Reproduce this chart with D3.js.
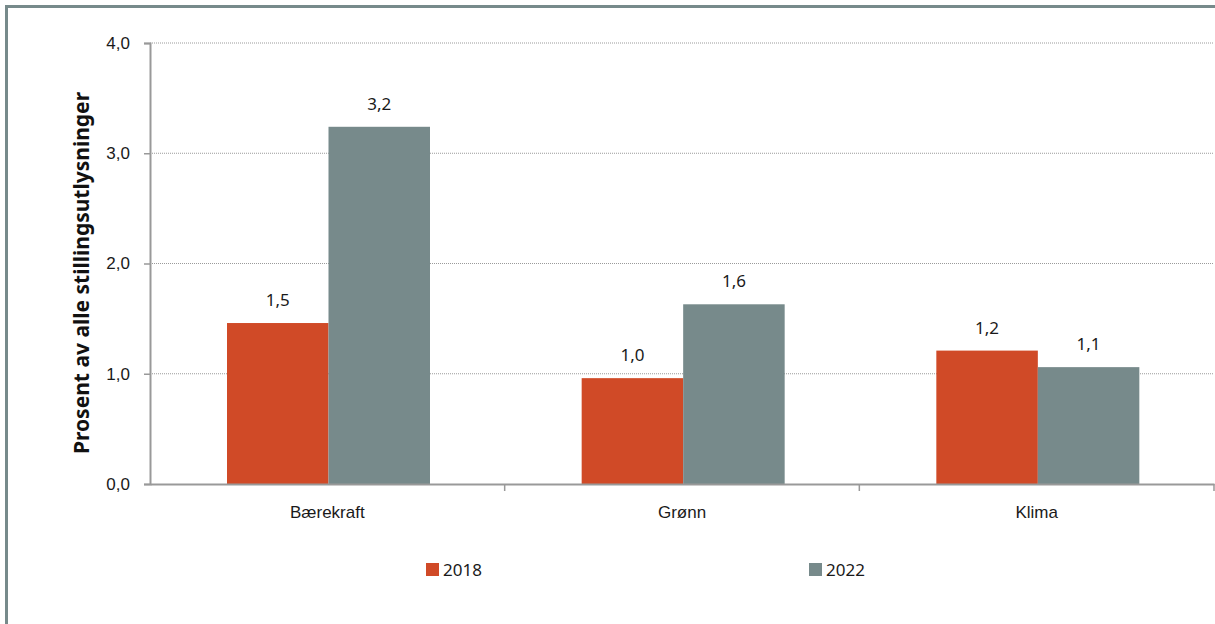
<!DOCTYPE html>
<html><head><meta charset="utf-8">
<script src="https://cdn.jsdelivr.net/npm/d3@7"></script>
<style>body{margin:0;background:#fff}svg{display:block;font-family:"Source Sans Pro","Noto Sans",sans-serif}</style>
</head><body><svg id="c" width="1215" height="624"></svg>
<script>
const categories = ["Bærekraft", "Grønn", "Klima"];
const seriesNames = ["2018", "2022"];
const values2018 = [1.46, 0.96, 1.21];
const values2022 = [3.24, 1.63, 1.06];
const yTicks = [0, 1, 2, 3, 4];
const colors = ["#D04A27", "#778A8B"];
const yTitle = "Prosent av alle stillingsutlysninger";

const svg = d3.select("#c");
const fmt = v => d3.format(".1f")(v).replace(".", ",");

// frame
svg.append("rect").attr("x", 6.5).attr("y", 6.5).attr("width", 1300).attr("height", 700)
  .attr("fill", "none").attr("stroke", "#778A8B").attr("stroke-width", 3);

const x0 = d3.scaleBand().domain(categories).range([150, 1214]).paddingInner(0).paddingOuter(0);
const x1 = d3.scaleBand().domain(seriesNames).range([77, 77 + 203]);
const y = d3.scaleLinear().domain([0, 4]).range([484, 43]);

// gridlines
svg.append("g").selectAll("line").data(yTicks.filter(d => d > 0)).join("line")
  .attr("x1", 150).attr("x2", 1214).attr("y1", d => y(d)).attr("y2", d => y(d))
  .attr("stroke", "#9a9a9a").attr("stroke-width", 1).attr("stroke-dasharray", "1,1");

const data = [values2018, values2022];
categories.forEach((c, i) => {
  seriesNames.forEach((s, j) => {
    const v = data[j][i];
    svg.append("rect").attr("x", x0(c) + x1(s)).attr("width", x1.bandwidth())
      .attr("y", y(v)).attr("height", y(0) - y(v)).attr("fill", colors[j]);
    svg.append("text").attr("x", x0(c) + x1(s) + x1.bandwidth() / 2).attr("y", y(v) - 17)
      .attr("text-anchor", "middle").attr("font-size", 17).attr("fill", "#1a1a1a").text(fmt(v));
  });
});

// y axis
const yAxis = svg.append("g").attr("transform", "translate(150,0)")
  .call(d3.axisLeft(y).tickValues(yTicks).tickFormat(fmt).tickSize(6).tickPadding(14));
yAxis.select(".domain").attr("stroke", "#999").attr("stroke-width", 2);
yAxis.selectAll(".tick line").attr("stroke", "#999").attr("stroke-width", 1.5);
yAxis.selectAll("text").attr("font-size", 17).attr("fill", "#1a1a1a").attr("font-family", "inherit");

// x axis
const xAxis = svg.append("g").attr("transform", "translate(0,484)")
  .call(d3.axisBottom(x0).tickSize(0).tickPadding(22));
xAxis.select(".domain").attr("stroke", "#999").attr("stroke-width", 2);
xAxis.selectAll("text").attr("font-size", 17).attr("fill", "#1a1a1a").attr("font-family", "inherit");
svg.append("g").selectAll("line").data(categories).join("line")
  .attr("x1", d => x0(d) + x0.bandwidth()).attr("x2", d => x0(d) + x0.bandwidth())
  .attr("y1", 484).attr("y2", 491).attr("stroke", "#999").attr("stroke-width", 1.5);

// y title
svg.append("text").attr("transform", "translate(89,273) rotate(-90)")
  .attr("text-anchor", "middle").attr("font-size", 21).attr("font-weight", "bold")
  .attr("fill", "#111").text(yTitle);

// legend
const legX = [426, 809];
seriesNames.forEach((s, j) => {
  svg.append("rect").attr("x", legX[j]).attr("y", 563).attr("width", 13).attr("height", 13).attr("fill", colors[j]);
  svg.append("text").attr("x", legX[j] + 17).attr("y", 576).attr("font-size", 17).attr("fill", "#1a1a1a").text(s);
});
</script></body></html>
